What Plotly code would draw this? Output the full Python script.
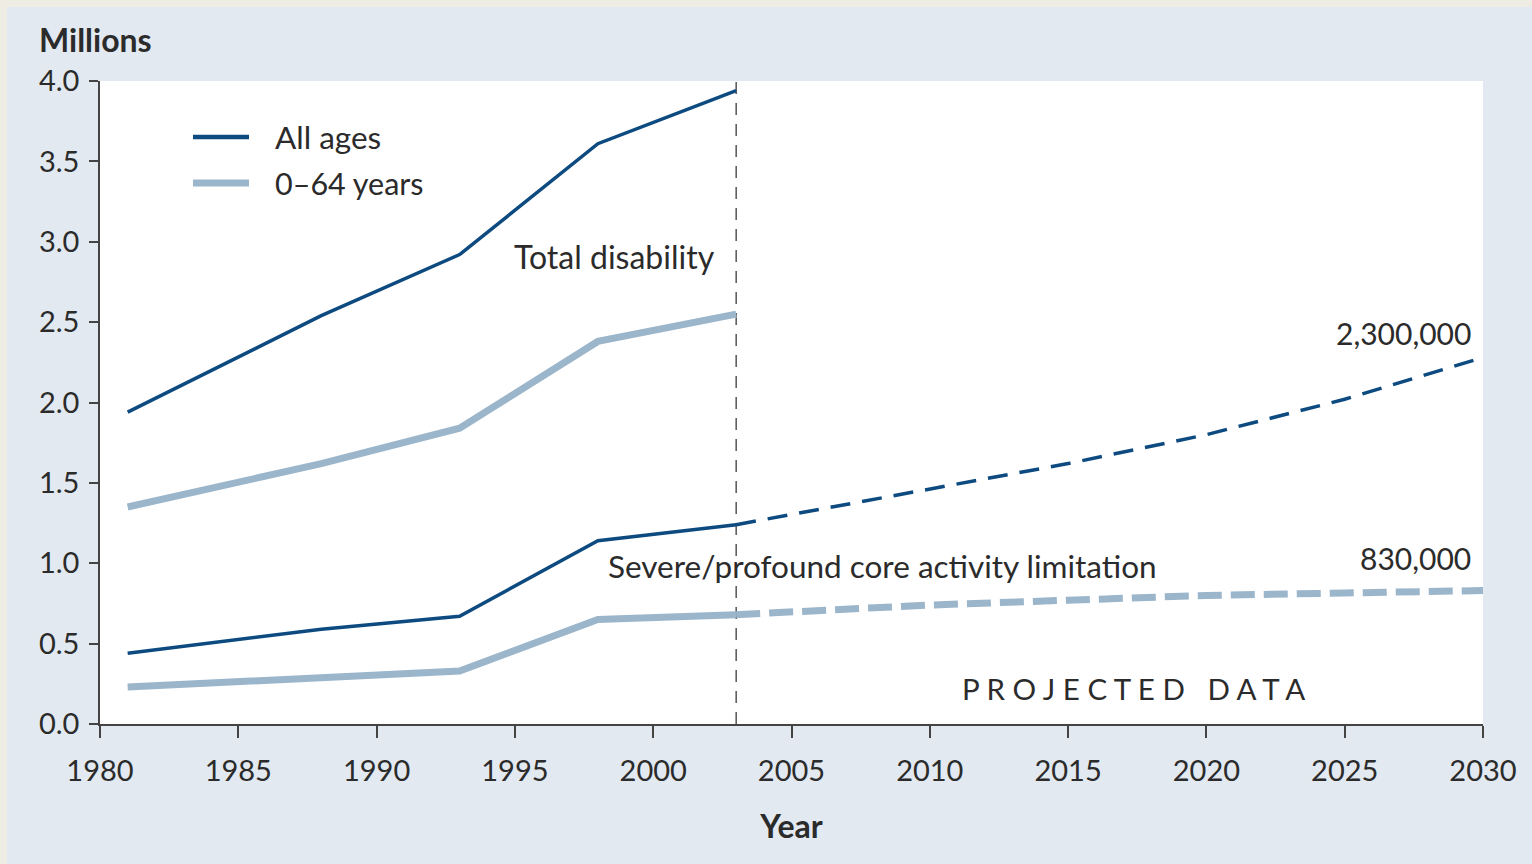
import plotly.graph_objects as go

# ---- data ----
obs_years = [1981, 1988, 1993, 1998, 2003]
total_all = [1.94, 2.54, 2.92, 3.61, 3.94]
total_0_64 = [1.35, 1.62, 1.84, 2.38, 2.55]
severe_all = [0.44, 0.59, 0.67, 1.14, 1.24]
severe_0_64 = [0.23, 0.29, 0.33, 0.65, 0.68]

proj_years = [2003, 2010, 2015, 2020, 2025, 2030]
proj_severe_all = [1.24, 1.46, 1.62, 1.80, 2.02, 2.28]
proj_severe_0_64 = [0.68, 0.74, 0.77, 0.80, 0.815, 0.83]

x_ticks = [1980, 1985, 1990, 1995, 2000, 2005, 2010, 2015, 2020, 2025, 2030]
y_ticks = [0.0, 0.5, 1.0, 1.5, 2.0, 2.5, 3.0, 3.5, 4.0]
legend_labels = ["All ages", "0\u201364 years"]

DARK = "#0d4a80"
LIGHT = "#9bb5cb"
TEXT = "#2b2b2b"
FONT = "Lato"

fig = go.Figure()

def add(x, y, color, width, dash="solid"):
    fig.add_trace(go.Scatter(x=x, y=y, mode="lines",
                             line=dict(color=color, width=width, dash=dash),
                             showlegend=False, hoverinfo="skip"))

add(obs_years, total_0_64, LIGHT, 7)
add(obs_years, severe_0_64, LIGHT, 7)
add(proj_years, proj_severe_0_64, LIGHT, 7, "24px,9px")
add(obs_years, total_all, DARK, 3.5)
add(obs_years, severe_all, DARK, 3.5)
add(proj_years, proj_severe_all, DARK, 3.5, "20px,12px")

# plot geometry (px)
L, R, T, B = 100, 49, 81, 140
W, H = 1532, 864
pw, ph = W - L - R, H - T - B

def px_x(p):
    return (p - L) / pw

def px_y(p):
    return (H - B - p) / ph

shapes = [
    # vertical separator at 2003
    dict(type="line", xref="x", yref="y", x0=2003, x1=2003, y0=0, y1=4.0,
         line=dict(color="#555555", width=1.5, dash="12px,9px"), layer="below"),
    # beige border strips
    dict(type="rect", xref="paper", yref="paper", x0=px_x(0), x1=px_x(7),
         y0=px_y(H), y1=px_y(0), fillcolor="#eeece3", line=dict(width=0), layer="below"),
    dict(type="rect", xref="paper", yref="paper", x0=px_x(0), x1=px_x(W),
         y0=px_y(7), y1=px_y(0), fillcolor="#eeece3", line=dict(width=0), layer="below"),
    # legend swatches
    dict(type="line", xref="paper", yref="paper", x0=px_x(193), x1=px_x(249),
         y0=px_y(137), y1=px_y(137), line=dict(color=DARK, width=4.5)),
    dict(type="line", xref="paper", yref="paper", x0=px_x(193), x1=px_x(249),
         y0=px_y(183), y1=px_y(183), line=dict(color=LIGHT, width=7)),
]

ann = []
def note(text, x, y, xref="x", yref="y", xanchor="center", size=31, bold=False):
    ann.append(dict(text=f"<b>{text}</b>" if bold else text, x=x, y=y, xref=xref, yref=yref,
                    xanchor=xanchor, yanchor="middle", showarrow=False,
                    font=dict(family=FONT, size=size, color=TEXT)))

note(legend_labels[0], px_x(273), px_y(137), "paper", "paper", "left", 31.5)
note(legend_labels[1], px_x(273), px_y(183), "paper", "paper", "left", 30.5)
note("Total disability", 1998.6, 2.91, size=32)
note("Severe/profound core activity limitation", 2008.3, 0.98, size=31.5)
note("P R O J E C T E D &nbsp; D A T A", 2017.35, 0.22, size=29.5)
note("2,300,000", 2029.65, 2.43, xanchor="right", size=30)
note("830,000", 2029.65, 1.03, xanchor="right", size=30)
note("Millions", px_x(37), px_y(40), "paper", "paper", "left", 32, bold=True)

fig.update_layout(
    width=W, height=H,
    margin=dict(l=L, r=R, t=T, b=B, pad=0),
    paper_bgcolor="#e2e9f0", plot_bgcolor="white",
    shapes=shapes, annotations=ann, showlegend=False,
    font=dict(family=FONT, size=29, color=TEXT),
    xaxis=dict(range=[1980, 2030], tickvals=x_ticks, ticktext=[str(v) for v in x_ticks],
               showgrid=False, zeroline=False, showline=True, linecolor="#444444", linewidth=1.5,
               ticks="outside", ticklen=12, tickwidth=1.5, tickcolor="#444444",
               ticklabelstandoff=8,
               title=dict(text="<b>Year</b>", standoff=30, font=dict(family=FONT, size=32, color=TEXT)),
               tickfont=dict(family=FONT, size=29, color=TEXT)),
    yaxis=dict(range=[0, 4.0], tickvals=y_ticks, ticktext=[f"{v:.1f}" for v in y_ticks],
               showgrid=False, zeroline=False, showline=True, linecolor="#444444", linewidth=1.5,
               ticks="outside", ticklen=9, tickwidth=1.5, tickcolor="#444444",
               ticklabelstandoff=4,
               tickfont=dict(family=FONT, size=29, color=TEXT)),
)

fig.write_html("out.html", post_script="document.body.style.margin='0';",
               config={"displayModeBar": False})
